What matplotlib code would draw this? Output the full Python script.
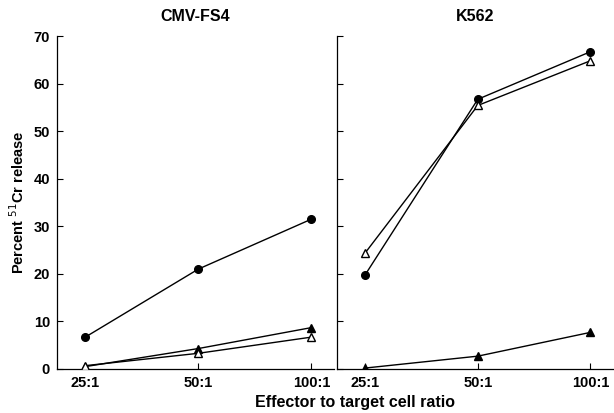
import matplotlib
matplotlib.use("Agg")
import matplotlib.pyplot as plt

plt.rcParams["font.family"] = ["Liberation Sans", "DejaVu Sans"]

# Effector:target ratios shared by both panels
ratios = ["25:1", "50:1", "100:1"]

# CMV-FS4 targets
cmv_circle = [6.7, 21.0, 31.5]
cmv_tri_filled = [0.5, 4.3, 8.7]
cmv_tri_open = [0.7, 3.3, 6.7]

# K562 targets
k562_circle = [19.8, 56.7, 66.7]
k562_tri_open = [24.4, 55.4, 64.8]
k562_tri_filled = [0.2, 2.7, 7.7]

yticks = [0, 10, 20, 30, 40, 50, 60, 70]


def draw_panel(ax, title, circle, tri_filled, tri_open, show_ylabels):
    x = list(range(len(ratios)))
    ax.plot(x, circle, color="black", lw=1.0, marker="o", ms=5.5,
            mfc="black", mec="black", zorder=3)
    ax.plot(x, tri_filled, color="black", lw=1.0, marker="^", ms=6,
            mfc="black", mec="black", zorder=3)
    ax.plot(x, tri_open, color="black", lw=1.0, marker="^", ms=6,
            mfc="white", mec="black", mew=1.0, zorder=4)

    ax.set_xlim(-0.25, 2.2)
    ax.set_ylim(0, 70)
    ax.set_xticks(x)
    ax.set_xticklabels(ratios, fontsize=10.5, fontweight="bold")
    ax.set_yticks(yticks)
    if show_ylabels:
        ax.set_yticklabels([str(v) for v in yticks], fontsize=10.5, fontweight="bold")
    else:
        ax.set_yticklabels([])
    ax.tick_params(direction="in", length=4, width=0.8, pad=5)
    for side in ["top", "right"]:
        ax.spines[side].set_visible(False)
    for side in ["left", "bottom"]:
        ax.spines[side].set_linewidth(0.9)
    ax.set_title(title, fontsize=11.5, fontweight="bold", pad=11)


fig = plt.figure(figsize=(6.14, 4.13), dpi=100)
ax1 = fig.add_axes([57 / 614, 44 / 413, 277 / 614, 333 / 413])
ax2 = fig.add_axes([337 / 614, 44 / 413, 276 / 614, 333 / 413])

draw_panel(ax1, "CMV-FS4", cmv_circle, cmv_tri_filled, cmv_tri_open, True)
draw_panel(ax2, "K562", k562_circle, k562_tri_filled, k562_tri_open, False)

ax1.set_ylabel("Percent $^{51}$Cr release", fontsize=10.5, fontweight="bold", labelpad=5)
fig.text(355 / 614, 1 - 403 / 413, "Effector to target cell ratio",
         ha="center", va="center", fontsize=11.5, fontweight="bold")

fig.savefig("out.png", dpi=100)
